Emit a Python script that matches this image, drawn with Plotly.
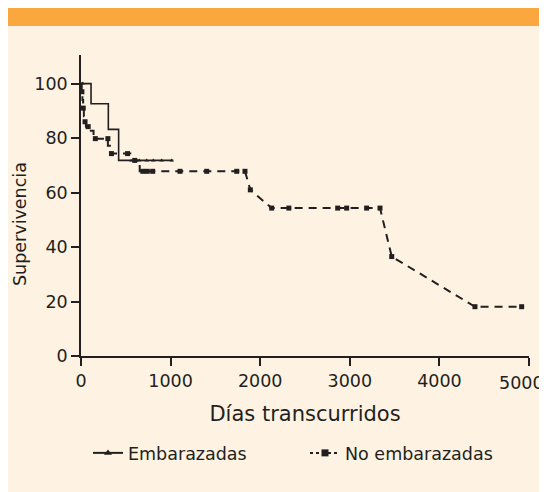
import plotly.graph_objects as go

# Embarazadas (solid line, triangles = censored)
emb_days = [0, 112, 112, 305, 305, 420, 420, 1030]
emb_surv = [100, 100, 92.6, 92.6, 83.2, 83.2, 71.8, 71.8]
emb_mark_days = [20, 650, 733, 807, 900, 1012]
emb_mark_surv = [100, 71.8, 71.8, 71.8, 71.8, 71.8]

# No embarazadas (dashed line, squares = censored)
no_days = [0, 8, 8, 16, 16, 24, 24, 32, 32, 40, 40, 55, 55, 110, 110, 140, 140,
           300, 300, 335, 335, 550, 550, 655, 655, 1830, 1890, 2128, 3337, 3468, 4397, 4918]
no_surv = [100, 100, 97, 97, 94, 94, 91, 91, 88, 88, 85.5, 85.5, 84.2, 84.2, 82.7, 82.7, 79.8,
           79.8, 77.2, 77.2, 74.3, 74.3, 71.8, 71.8, 67.8, 67.8, 61, 54.3, 54.3, 36.5, 18.1, 18.1]
no_mark_days = [10, 25, 45, 80, 160, 300, 340, 520, 600, 690, 740, 800, 1105, 1403, 1738, 1830,
                1890, 2128, 2320, 2865, 2965, 3188, 3337, 3468, 4397, 4918]
no_mark_surv = [97, 91, 86, 84.2, 79.8, 79.8, 74.3, 74.3, 71.8, 67.8, 67.8, 67.8, 67.8, 67.8, 67.8, 67.8,
                61, 54.3, 54.3, 54.3, 54.3, 54.3, 54.3, 36.5, 18.1, 18.1]

x_ticks = [0, 1000, 2000, 3000, 4000, 5000]
y_ticks = [0, 20, 40, 60, 80, 100]

FONT = "DejaVu Sans"
FS = 17.5
INK = "#231f20"
CREAM = "#FEF2E2"
ORANGE = "#F9A73E"

fig = go.Figure()
fig.add_trace(go.Scatter(x=no_days, y=no_surv, mode="lines",
                         line=dict(color=INK, width=2, dash="8px,6px"), showlegend=False))
fig.add_trace(go.Scatter(x=no_mark_days, y=no_mark_surv, mode="markers",
                         marker=dict(symbol="square", size=5, color=INK), showlegend=False))
fig.add_trace(go.Scatter(x=emb_days, y=emb_surv, mode="lines",
                         line=dict(color=INK, width=1.6), showlegend=False))
fig.add_trace(go.Scatter(x=emb_mark_days, y=emb_mark_surv, mode="markers",
                         marker=dict(symbol="triangle-up", size=4, color=INK), showlegend=False))

# legend entries
fig.add_trace(go.Scatter(x=[None], y=[None], mode="lines+markers", name="Embarazadas",
                         line=dict(color=INK, width=2),
                         marker=dict(symbol="triangle-up", size=7, color=INK)))
fig.add_trace(go.Scatter(x=[None], y=[None], mode="lines+markers", name="No embarazadas",
                         line=dict(color=INK, width=2, dash="dot"),
                         marker=dict(symbol="square", size=7, color=INK)))

# page body has an 8px margin; figure starts at window (8, 8)
OFF = 8
W, H = 547 - OFF, 492 - OFF
PL, PR, PT, PB = 81, 529, 55, 356   # plot area in window pixels
L, R, T, B = PL - OFF, 547 - PR, PT - OFF, 492 - PB

def px(xp):
    return (xp - PL) / (PR - PL)

def py(yp):
    return (PB - yp) / (PB - PT)

tick_text = [str(v) for v in x_ticks[:-1]] + [""]

fig.update_layout(
    width=W, height=H,
    margin=dict(l=L, r=R, t=T, b=B),
    paper_bgcolor=CREAM,
    plot_bgcolor="rgba(0,0,0,0)",
    font=dict(family=FONT, size=FS, color=INK),
    shapes=[
        dict(type="rect", xref="paper", yref="paper", x0=px(0), x1=px(560), y0=py(26), y1=py(0),
             fillcolor=ORANGE, line=dict(width=0), layer="below"),
    ],
    annotations=[
        dict(text="Supervivencia", xref="paper", yref="paper", x=px(20), y=py(224),
             xanchor="center", yanchor="middle", textangle=-90, showarrow=False,
             font=dict(size=FS, color=INK)),
        dict(text=str(x_ticks[-1]), xref="paper", yref="paper", x=px(546), y=py(383),
             xanchor="right", yanchor="middle", showarrow=False,
             font=dict(size=FS, color=INK)),
    ],
    xaxis=dict(range=[0, 5000], tickvals=x_ticks, ticktext=tick_text,
               showgrid=False, zeroline=False, showline=True, linecolor=INK, linewidth=1.5,
               ticks="outside", ticklen=8, tickcolor=INK, tickwidth=1.5,
               automargin=False,
               title=dict(text="Días transcurridos", standoff=17)),
    yaxis=dict(range=[0, 110.5], tickvals=y_ticks, ticktext=[str(v) for v in y_ticks],
               showgrid=False, zeroline=False, showline=True, linecolor=INK, linewidth=1.5,
               ticks="outside", ticklen=8, tickcolor=INK, tickwidth=1.5,
               automargin=False),
    legend=dict(orientation="h", x=0.5, xanchor="center", y=py(453), yanchor="middle",
                bgcolor="rgba(0,0,0,0)", font=dict(size=FS), entrywidth=172),
)

fig.write_html("out.html")
